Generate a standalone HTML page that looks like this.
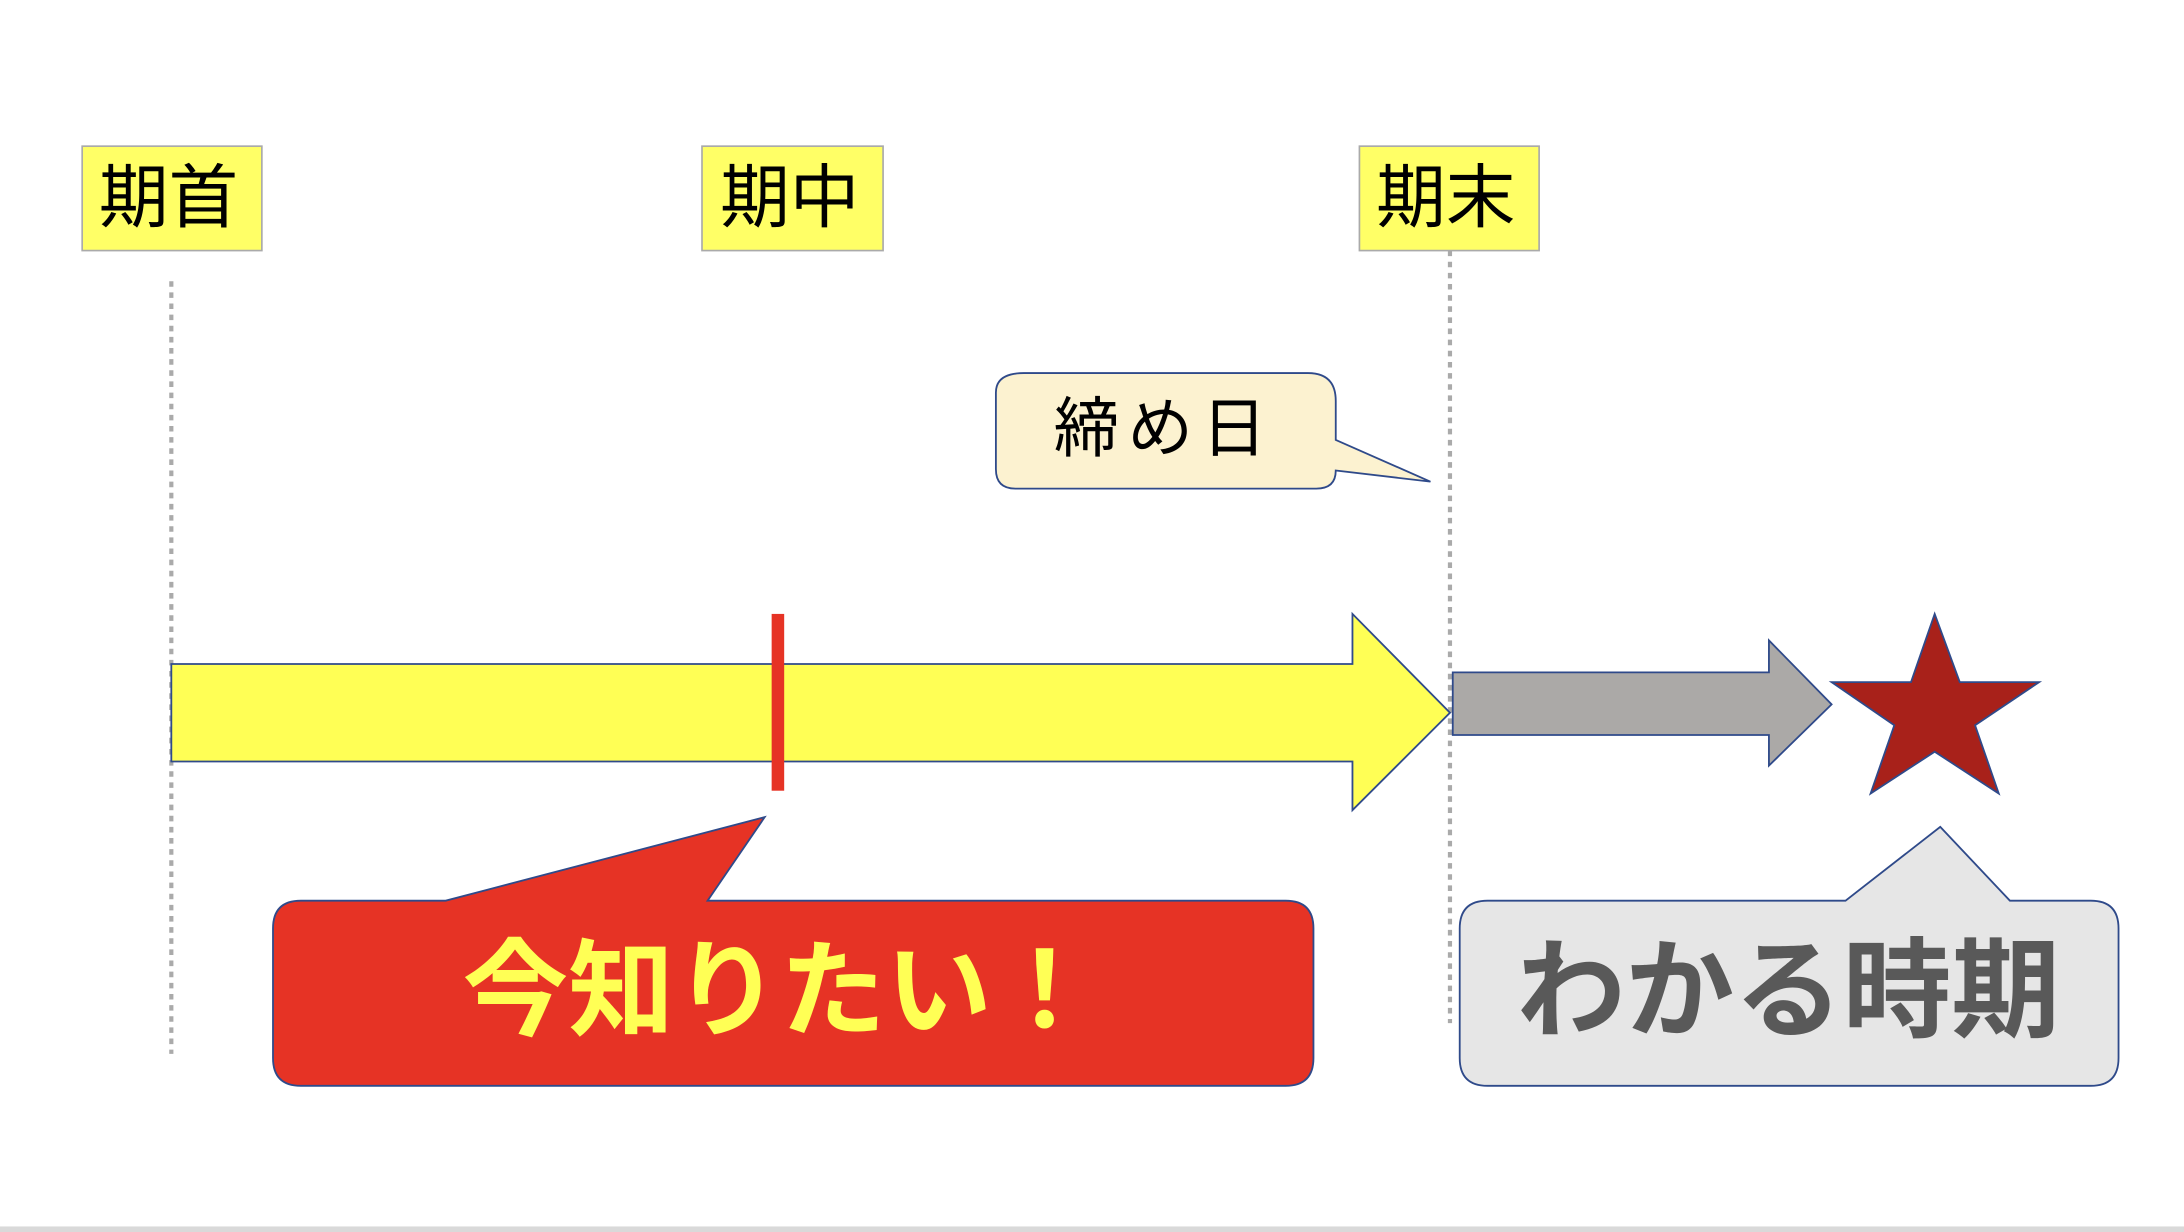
<!DOCTYPE html>
<html><head><meta charset="utf-8"><style>html,body{margin:0;padding:0;background:#fff}svg{display:block}</style></head>
<body>
<svg width="2184" height="1232" viewBox="0 0 1568 885" preserveAspectRatio="none" xmlns="http://www.w3.org/2000/svg" font-family="'Liberation Sans','Noto Sans CJK JP',sans-serif">
<rect width="1568" height="885" fill="#fff"/>
<rect x="0" y="881" width="1568" height="4" fill="#d9d9d9"/>
<g stroke="#aaa" stroke-width="3" stroke-dasharray="4,4">
<line x1="123" y1="202" x2="123" y2="757"/>
<line x1="1041" y1="180" x2="1041" y2="735"/>
</g>
<g fill="#ffff66" stroke="#aaa" stroke-width="1.2">
<rect x="59" y="105" width="129" height="75"/>
<rect x="504" y="105" width="130" height="75"/>
<rect x="976" y="105" width="129" height="75"/>
</g>
<g font-size="50" fill="#000" text-anchor="middle">
<text x="121" y="159">期首</text>
<text x="567" y="159">期中</text>
<text x="1038" y="159">期末</text>
</g>
<path d="M735,268 H939 Q959,268 959,288 V316 L1027,346 L959,338 Q959,351 945,351 H729 Q715,351 715,337 V282 Q715,268 735,268 Z" fill="#fcf2d0" stroke="#2f4a8a" stroke-width="1.3"/>
<text x="836" y="324" font-size="47" text-anchor="middle" letter-spacing="6">締め日</text>
<path d="M123,477 H971 V441 L1041,512 L971,582 V547 H123 Z" fill="#ffff55" stroke="#2f4a8a" stroke-width="1.3"/>
<rect x="554" y="441" width="9" height="127" fill="#e63325"/>
<path d="M1043,483 H1270 V460 L1315,506 L1270,550 V528 H1043 Z" fill="#aba9a7" stroke="#2f4a8a" stroke-width="1.3"/>
<path d="M1389,441 L1407,490 L1464,490 L1418,521 L1435,570 L1389,540 L1343,570 L1360,521 L1315,490 L1372,490 Z" fill="#a8211a" stroke="#2f4a8a" stroke-width="1.3"/>
<path d="M216,647 H320 L549,587 L508,647 H923 Q943,647 943,667 V760 Q943,780 923,780 H216 Q196,780 196,760 V667 Q196,647 216,647 Z" fill="#e63325" stroke="#2f4a8a" stroke-width="1.3"/>
<text x="560" y="738" font-size="76" font-weight="bold" fill="#ffff55" text-anchor="middle">今知りたい！</text>
<path d="M1068,647 H1325 L1393,594 L1443,647 H1501 Q1521,647 1521,667 V760 Q1521,780 1501,780 H1068 Q1048,780 1048,760 V667 Q1048,647 1068,647 Z" fill="#e6e6e6" stroke="#2f4a8a" stroke-width="1.3"/>
<text x="1284" y="739" font-size="78" font-weight="bold" fill="#595959" text-anchor="middle">わかる時期</text>
</svg>
</body></html>
